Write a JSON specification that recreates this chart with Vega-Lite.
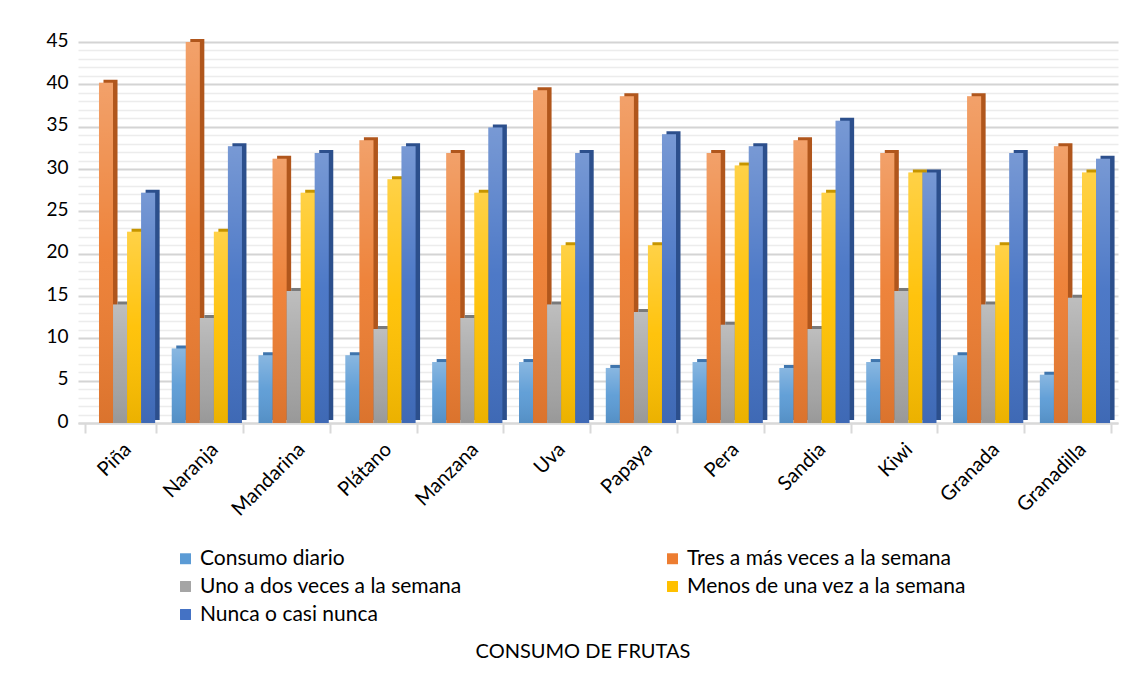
{
  "$schema": "https://vega.github.io/schema/vega-lite/v6.json",
  "width": 1040,
  "height": 381,
  "padding": {"left": 45, "top": 31, "right": 6, "bottom": 10},
  "background": "white",
  "title": {
    "text": "CONSUMO DE FRUTAS",
    "orient": "bottom",
    "anchor": "middle",
    "font": "Lato",
    "fontSize": 20,
    "fontWeight": "normal",
    "color": "#000000",
    "offset": 17,
    "dx": -15
  },
  "data": {
    "values": [
      {"fruta": "Piña", "frecuencia": "Consumo diario", "valor": 0},
      {"fruta": "Piña", "frecuencia": "Tres a más veces a la semana", "valor": 40.2},
      {"fruta": "Piña", "frecuencia": "Uno a dos veces a la semana", "valor": 14.0},
      {"fruta": "Piña", "frecuencia": "Menos de una vez a la semana", "valor": 22.6},
      {"fruta": "Piña", "frecuencia": "Nunca o casi nunca", "valor": 27.2},
      {"fruta": "Naranja", "frecuencia": "Consumo diario", "valor": 8.8},
      {"fruta": "Naranja", "frecuencia": "Tres a más veces a la semana", "valor": 45.0},
      {"fruta": "Naranja", "frecuencia": "Uno a dos veces a la semana", "valor": 12.4},
      {"fruta": "Naranja", "frecuencia": "Menos de una vez a la semana", "valor": 22.6},
      {"fruta": "Naranja", "frecuencia": "Nunca o casi nunca", "valor": 32.7},
      {"fruta": "Mandarina", "frecuencia": "Consumo diario", "valor": 8.0},
      {"fruta": "Mandarina", "frecuencia": "Tres a más veces a la semana", "valor": 31.2},
      {"fruta": "Mandarina", "frecuencia": "Uno a dos veces a la semana", "valor": 15.6},
      {"fruta": "Mandarina", "frecuencia": "Menos de una vez a la semana", "valor": 27.2},
      {"fruta": "Mandarina", "frecuencia": "Nunca o casi nunca", "valor": 31.9},
      {"fruta": "Plátano", "frecuencia": "Consumo diario", "valor": 8.0},
      {"fruta": "Plátano", "frecuencia": "Tres a más veces a la semana", "valor": 33.4},
      {"fruta": "Plátano", "frecuencia": "Uno a dos veces a la semana", "valor": 11.1},
      {"fruta": "Plátano", "frecuencia": "Menos de una vez a la semana", "valor": 28.8},
      {"fruta": "Plátano", "frecuencia": "Nunca o casi nunca", "valor": 32.7},
      {"fruta": "Manzana", "frecuencia": "Consumo diario", "valor": 7.2},
      {"fruta": "Manzana", "frecuencia": "Tres a más veces a la semana", "valor": 31.9},
      {"fruta": "Manzana", "frecuencia": "Uno a dos veces a la semana", "valor": 12.4},
      {"fruta": "Manzana", "frecuencia": "Menos de una vez a la semana", "valor": 27.2},
      {"fruta": "Manzana", "frecuencia": "Nunca o casi nunca", "valor": 34.9},
      {"fruta": "Uva", "frecuencia": "Consumo diario", "valor": 7.2},
      {"fruta": "Uva", "frecuencia": "Tres a más veces a la semana", "valor": 39.3},
      {"fruta": "Uva", "frecuencia": "Uno a dos veces a la semana", "valor": 14.0},
      {"fruta": "Uva", "frecuencia": "Menos de una vez a la semana", "valor": 21.0},
      {"fruta": "Uva", "frecuencia": "Nunca o casi nunca", "valor": 31.9},
      {"fruta": "Papaya", "frecuencia": "Consumo diario", "valor": 6.5},
      {"fruta": "Papaya", "frecuencia": "Tres a más veces a la semana", "valor": 38.6},
      {"fruta": "Papaya", "frecuencia": "Uno a dos veces a la semana", "valor": 13.1},
      {"fruta": "Papaya", "frecuencia": "Menos de una vez a la semana", "valor": 21.0},
      {"fruta": "Papaya", "frecuencia": "Nunca o casi nunca", "valor": 34.1},
      {"fruta": "Pera", "frecuencia": "Consumo diario", "valor": 7.2},
      {"fruta": "Pera", "frecuencia": "Tres a más veces a la semana", "valor": 31.9},
      {"fruta": "Pera", "frecuencia": "Uno a dos veces a la semana", "valor": 11.6},
      {"fruta": "Pera", "frecuencia": "Menos de una vez a la semana", "valor": 30.4},
      {"fruta": "Pera", "frecuencia": "Nunca o casi nunca", "valor": 32.7},
      {"fruta": "Sandia", "frecuencia": "Consumo diario", "valor": 6.5},
      {"fruta": "Sandia", "frecuencia": "Tres a más veces a la semana", "valor": 33.4},
      {"fruta": "Sandia", "frecuencia": "Uno a dos veces a la semana", "valor": 11.1},
      {"fruta": "Sandia", "frecuencia": "Menos de una vez a la semana", "valor": 27.2},
      {"fruta": "Sandia", "frecuencia": "Nunca o casi nunca", "valor": 35.7},
      {"fruta": "Kiwi", "frecuencia": "Consumo diario", "valor": 7.2},
      {"fruta": "Kiwi", "frecuencia": "Tres a más veces a la semana", "valor": 31.9},
      {"fruta": "Kiwi", "frecuencia": "Uno a dos veces a la semana", "valor": 15.6},
      {"fruta": "Kiwi", "frecuencia": "Menos de una vez a la semana", "valor": 29.6},
      {"fruta": "Kiwi", "frecuencia": "Nunca o casi nunca", "valor": 29.6},
      {"fruta": "Granada", "frecuencia": "Consumo diario", "valor": 8.0},
      {"fruta": "Granada", "frecuencia": "Tres a más veces a la semana", "valor": 38.6},
      {"fruta": "Granada", "frecuencia": "Uno a dos veces a la semana", "valor": 14.0},
      {"fruta": "Granada", "frecuencia": "Menos de una vez a la semana", "valor": 21.0},
      {"fruta": "Granada", "frecuencia": "Nunca o casi nunca", "valor": 31.9},
      {"fruta": "Granadilla", "frecuencia": "Consumo diario", "valor": 5.7},
      {"fruta": "Granadilla", "frecuencia": "Tres a más veces a la semana", "valor": 32.7},
      {"fruta": "Granadilla", "frecuencia": "Uno a dos veces a la semana", "valor": 14.8},
      {"fruta": "Granadilla", "frecuencia": "Menos de una vez a la semana", "valor": 29.6},
      {"fruta": "Granadilla", "frecuencia": "Nunca o casi nunca", "valor": 31.2}
    ]
  },
  "encoding": {
    "x": {
      "field": "fruta",
      "type": "nominal",
      "sort": ["Piña", "Naranja", "Mandarina", "Plátano", "Manzana", "Uva", "Papaya", "Pera", "Sandia", "Kiwi", "Granada", "Granadilla"],
      "scale": {"paddingInner": 0.18, "paddingOuter": 0.08},
      "axis": {
        "title": null,
        "labelAngle": -45,
        "labelFont": "Lato",
        "labelFontSize": 20,
        "labelColor": "#000000",
        "labelPadding": 6,
        "domainColor": "#d9d9d9",
        "domainWidth": 2,
        "tickColor": "#d9d9d9",
        "tickWidth": 2,
        "tickSize": 10,
        "tickBand": "extent",
        "grid": false
      }
    },
    "y": {
      "field": "valor",
      "type": "quantitative",
      "scale": {"domain": [0, 45], "nice": false},
      "axis": {
        "title": null,
        "values": [0, 1, 2, 3, 4, 5, 6, 7, 8, 9, 10, 11, 12, 13, 14, 15, 16, 17, 18, 19, 20, 21, 22, 23, 24, 25, 26, 27, 28, 29, 30, 31, 32, 33, 34, 35, 36, 37, 38, 39, 40, 41, 42, 43, 44, 45],
        "labelExpr": "datum.value % 5 === 0 ? datum.label : ''",
        "labelFont": "Lato",
        "labelFontSize": 19,
        "labelColor": "#000000",
        "labelPadding": 10,
        "labelOffset": -2,
        "domain": false,
        "ticks": false,
        "grid": true,
        "gridColor": {"condition": {"test": "datum.value % 5 === 0", "value": "#d4d4d4"}, "value": "#ececec"},
        "gridWidth": {"condition": {"test": "datum.value % 5 === 0", "value": 2}, "value": 1.5}
      }
    }
  },
  "layer": [
    {
      "description": "darker extrusion behind each bar for the 3-D look, nudged right within the group",
      "mark": {"type": "bar", "yOffset": -3},
      "encoding": {
        "xOffset": {
          "field": "frecuencia",
          "sort": ["Consumo diario", "Tres a más veces a la semana", "Uno a dos veces a la semana", "Menos de una vez a la semana", "Nunca o casi nunca"],
          "scale": {"range": [4.5, 74.7], "paddingInner": 0, "paddingOuter": 0}
        },
        "color": {
          "field": "frecuencia",
          "type": "nominal",
          "sort": ["Consumo diario", "Tres a más veces a la semana", "Uno a dos veces a la semana", "Menos de una vez a la semana", "Nunca o casi nunca"],
          "scale": {"range": ["#3f75ad", "#b0561c", "#7a7a7a", "#c69500", "#2c4f8c"]},
          "legend": null
        }
      }
    },
    {
      "mark": {"type": "bar"},
      "encoding": {
        "xOffset": {
          "field": "frecuencia",
          "sort": ["Consumo diario", "Tres a más veces a la semana", "Uno a dos veces a la semana", "Menos de una vez a la semana", "Nunca o casi nunca"],
          "scale": {"range": [0, 70.2], "paddingInner": 0, "paddingOuter": 0}
        },
        "color": {
          "field": "frecuencia",
          "type": "nominal",
          "sort": ["Consumo diario", "Tres a más veces a la semana", "Uno a dos veces a la semana", "Menos de una vez a la semana", "Nunca o casi nunca"],
          "scale": {"range": ["#5B9BD5", "#ED7D31", "#A5A5A5", "#FFC000", "#4472C4"]},
          "legend": {
            "title": null,
            "orient": "none",
            "direction": "horizontal",
            "legendX": 97,
            "legendY": 506,
            "columns": 2,
            "symbolType": "square",
            "symbolSize": 120,
            "symbolStrokeWidth": 0,
            "labelFont": "Lato",
            "labelFontSize": 21,
            "labelColor": "#000000",
            "labelLimit": 400,
            "labelOffset": 4,
            "columnPadding": 200,
            "rowPadding": 6
          }
        }
      }
    },
    {
      "description": "soft vertical shading over the bar faces",
      "mark": {
        "type": "bar",
        "fill": {
          "gradient": "linear",
          "x1": 0, "y1": 0, "x2": 0, "y2": 1,
          "stops": [
            {"offset": 0, "color": "rgba(255,255,255,0.28)"},
            {"offset": 0.5, "color": "rgba(255,255,255,0.05)"},
            {"offset": 1, "color": "rgba(0,0,0,0.08)"}
          ]
        }
      },
      "encoding": {
        "xOffset": {
          "field": "frecuencia",
          "sort": ["Consumo diario", "Tres a más veces a la semana", "Uno a dos veces a la semana", "Menos de una vez a la semana", "Nunca o casi nunca"],
          "scale": {"range": [0, 70.2], "paddingInner": 0, "paddingOuter": 0}
        }
      }
    }
  ],
  "resolve": {"scale": {"color": "independent", "xOffset": "independent"}},
  "config": {
    "view": {"stroke": null}
  }
}
